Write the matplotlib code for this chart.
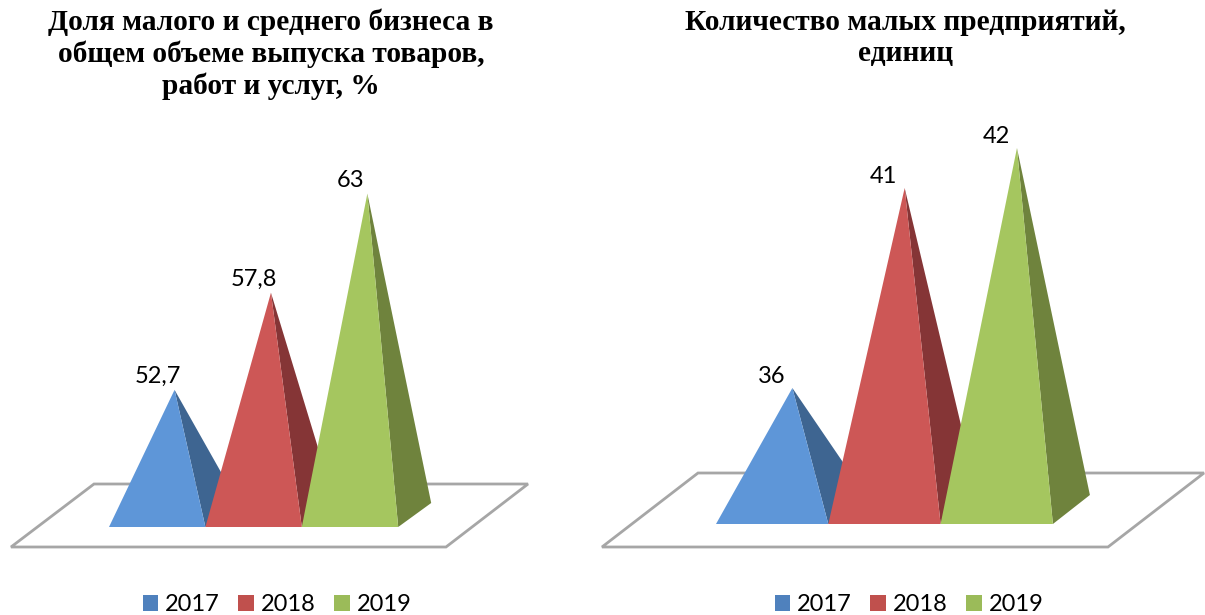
import matplotlib
matplotlib.use("Agg")
import matplotlib.pyplot as plt
from matplotlib.patches import Polygon, Patch

years = ["2017", "2018", "2019"]
share_values = [52.7, 57.8, 63.0]
share_labels = ["52,7", "57,8", "63"]
count_values = [36, 41, 42]
count_labels = ["36", "41", "42"]
title_left = "Доля малого и среднего бизнеса в\nобщем объеме выпуска товаров,\nработ и услуг, %"
title_right = "Количество малых предприятий,\nединиц"

front_colors = ["#5E96D8", "#CD5756", "#A5C65F"]
side_colors = ["#3E6591", "#853536", "#6F833D"]
legend_colors = ["#4F81BD", "#C0504D", "#9BBB59"]

W, H = 1205, 615
fig = plt.figure(figsize=(W / 100, H / 100), dpi=100, facecolor="white")
TEXT_FONT = ["Lato", "DejaVu Sans"]
TITLE_FONT = ["Liberation Serif", "DejaVu Serif"]


def panel(px_left, px_right, x0_px, cat_px, base_px, base_val, val_px, floor_px,
          depth_px, values, labels, label_dx, label_dy, title, title_x, title_y,
          legend_x, colspacing):
    ax = fig.add_axes([px_left / W, 0, (px_right - px_left) / W, 1])
    ax.set_axis_off()
    # category i occupies [i-0.5, i+0.5]
    ax.set_xlim((px_left - x0_px) / cat_px - 0.5, (px_right - x0_px) / cat_px - 0.5)
    ax.set_ylim(base_val - (H - base_px) / val_px, base_val + base_px / val_px)

    def to_data(px, py):
        return ((px - x0_px) / cat_px - 0.5, base_val + (base_px - py) / val_px)

    ax.add_patch(Polygon([to_data(*p) for p in floor_px], closed=True, fc="white",
                         ec="#A6A6A6", lw=2.0, zorder=1, clip_on=False))
    dx = depth_px[0] / cat_px
    dy = depth_px[1] / val_px
    apex_frac = 0.68
    for i, v in enumerate(values):
        left, right = i - 0.5, i + 0.5
        apex = (left + apex_frac, v)
        ax.add_patch(Polygon([apex, (right, base_val), (right + dx, base_val + dy)],
                             closed=True, fc=side_colors[i], ec="none", zorder=2 + i))
        ax.add_patch(Polygon([apex, (left, base_val), (right, base_val)],
                             closed=True, fc=front_colors[i], ec="none", zorder=2 + i))
        ax.annotate(labels[i], apex, xytext=(label_dx, label_dy), textcoords="offset points",
                    ha="center", va="bottom", fontsize=17, family=TEXT_FONT,
                    color="black", zorder=10)
    fig.text(title_x / W, 1 - title_y / H, title, ha="center", va="top",
             fontsize=21.2, fontweight="bold", family=TITLE_FONT, color="black",
             linespacing=1.2)
    handles = [Patch(fc=c, ec="none", label=y) for c, y in zip(legend_colors, years)]
    fig.legend(handles=handles, loc="center", bbox_to_anchor=(legend_x / W, 1 - 604.5 / H),
               ncol=3, frameon=False, prop={"family": TEXT_FONT, "size": 17},
               handlelength=0.66, handleheight=0.66, handletextpad=0.28,
               columnspacing=colspacing, borderpad=0, borderaxespad=0)


panel(0, 595, 109, 96.4, 527, 45.5, 19.05,
      [(11, 547), (446, 547), (528, 484), (94, 484)], (33, 24),
      share_values, share_labels, -12, 2, title_left, 271, 9, 277, 0.8)
panel(595, 1205, 716, 112.3, 524, 32.6, 40.0,
      [(602, 547), (1108, 547), (1204, 473), (698, 473)], (37, 29),
      count_values, count_labels, -15, 0.5, title_right, 905.5, 9, 909, 0.8)

fig.savefig("out.png", dpi=100)
